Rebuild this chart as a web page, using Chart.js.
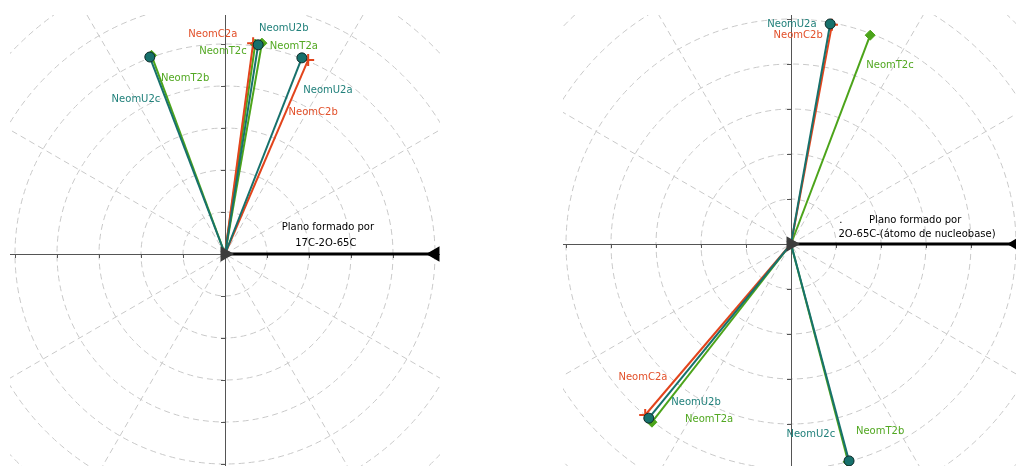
<!DOCTYPE html>
<html>
<head>
<meta charset="utf-8">
<script src="https://cdn.jsdelivr.net/npm/chart.js@4/dist/chart.umd.min.js"></script>
<style>
  body { margin: 0; background: #ffffff; width: 1016px; height: 466px; position: relative; overflow: hidden; }
  canvas { position: absolute; }
</style>
</head>
<body>
<canvas id="plotLeft" width="430" height="451" style="left:10px;top:15px"></canvas>
<canvas id="plotRight" width="453" height="451" style="left:563px;top:15px"></canvas>
<script>
/* ---------- data ---------- */
const seriesNames = ["NeomC2a", "NeomU2b", "NeomT2c", "NeomT2a", "NeomT2b", "NeomU2c", "NeomU2a", "NeomC2b"];
const seriesKind  = ["C", "U", "T", "T", "T", "U", "U", "C"];

// vector tips, left panel (plane 17C-2O-65C)
const leftVecX = [0.67, 0.79, 0.72, 0.88, -1.75, -1.79, 1.83, 1.98];
const leftVecY = [5.02, 4.98, 5.00, 5.02, 4.73, 4.69, 4.67, 4.62];
// vector tips, right panel (plane 2O-65C-nucleobase)
const rightVecX = [-3.24, -3.16, 1.76, -3.09, 1.27, 1.29, 0.87, 0.91];
const rightVecY = [-3.80, -3.87, 4.64, -3.96, -4.84, -4.82, 4.89, 4.87];

// label anchors (data units)
const leftLabX  = [-0.29, 1.40, -0.05, 1.64, -0.95, -2.12, 2.45, 2.10];
const leftLabY  = [5.24, 5.36, 4.83, 4.95, 4.17, 3.69, 3.90, 3.36];
const rightLabX = [-3.29, -2.11, 2.20, -1.82, 1.98, 0.44, 0.02, 0.16];
const rightLabY = [-2.96, -3.53, 3.96, -3.89, -4.16, -4.24, 4.87, 4.64];

const planeVec = [5, 0];
const leftPlaneText  = ["Plano formado por", "17C-2O-65C"];
const leftPlaneLab   = [2.45, 0.64, 2.40, 0.26];
const rightPlaneText = [".", "Plano formado por", "2O-65C-(átomo de nucleobase)"];
const rightPlaneLab  = [1.11, 0.52, 2.76, 0.53, 2.80, 0.22];

/* ---------- styles ---------- */
const kindColor  = { C: "#e2441c", U: "#17716c", T: "#4ca41a" };
const kindText   = { C: "#e2502a", U: "#21807b", T: "#52a822" };
const kindMarker = { C: "cross", U: "circle", T: "rectRot" };
const kindOrder  = { C: 2, U: 1, T: 3 };
const FONT = '10px "DejaVu Sans", sans-serif';

/* ---------- polar grid + axes ---------- */
const polarGrid = {
  id: "polarGrid",
  beforeDatasetsDraw(chart) {
    const ctx = chart.ctx;
    const xs = chart.scales.x, ys = chart.scales.y;
    const a = chart.chartArea;
    const ox = xs.getPixelForValue(0), oy = ys.getPixelForValue(0);
    const unit = xs.getPixelForValue(1) - ox;

    ctx.save();
    ctx.beginPath();
    ctx.rect(a.left, a.top, a.right - a.left, a.bottom - a.top);
    ctx.clip();

    ctx.strokeStyle = "#c9c9c9";
    ctx.lineWidth = 1;
    ctx.setLineDash([6, 4]);
    for (let k = 1; k <= 8; k++) {
      ctx.beginPath();
      ctx.arc(ox, oy, k * unit, 0, Math.PI * 2);
      ctx.stroke();
    }
    [30, 60, 120, 150].forEach(deg => {
      const r = 10 * unit, t = deg * Math.PI / 180;
      ctx.beginPath();
      ctx.moveTo(ox - r * Math.cos(t), oy + r * Math.sin(t));
      ctx.lineTo(ox + r * Math.cos(t), oy - r * Math.sin(t));
      ctx.stroke();
    });
    ctx.setLineDash([]);

    // axes through the origin
    ctx.strokeStyle = "#555555";
    ctx.beginPath();
    ctx.moveTo(a.left, Math.round(oy) + 0.5); ctx.lineTo(a.right, Math.round(oy) + 0.5);
    ctx.moveTo(Math.round(ox) + 0.5, a.top); ctx.lineTo(Math.round(ox) + 0.5, a.bottom);
    ctx.stroke();

    // tick marks
    ctx.beginPath();
    for (let k = -6; k <= 6; k++) {
      if (k === 0) continue;
      const px = Math.round(xs.getPixelForValue(k)) + 0.5;
      ctx.moveTo(px, oy); ctx.lineTo(px, oy + 4);
      const py = Math.round(ys.getPixelForValue(k)) + 0.5;
      ctx.moveTo(ox, py); ctx.lineTo(ox - 4, py);
    }
    ctx.stroke();
    ctx.restore();
  }
};

/* ---------- text labels ---------- */
const textLabels = {
  id: "textLabels",
  afterDatasetsDraw(chart, args, opts) {
    const ctx = chart.ctx;
    const xs = chart.scales.x, ys = chart.scales.y;
    ctx.save();
    ctx.font = FONT;
    ctx.textAlign = "center";
    ctx.textBaseline = "middle";
    opts.items.forEach(it => {
      ctx.fillStyle = it.color;
      ctx.fillText(it.text, xs.getPixelForValue(it.x), ys.getPixelForValue(it.y));
    });
    ctx.restore();
  }
};

function buildPanel(canvasId, vx, vy, lx, ly, planeText, planeLab, pxPerUnit, originPx) {
  const canvas = document.getElementById(canvasId);
  const w = canvas.width, h = canvas.height;

  const datasets = seriesNames.map((name, i) => {
    const kind = seriesKind[i];
    const col = kindColor[kind];
    return {
      label: name,
      data: [{ x: 0, y: 0 }, { x: vx[i], y: vy[i] }],
      showLine: true,
      borderColor: col,
      borderWidth: 2,
      pointStyle: kindMarker[kind],
      pointRadius: [0, kind === "C" ? 6 : 5],
      pointBackgroundColor: col,
      pointBorderColor: kind === "U" ? "#0d2a28" : col,
      pointBorderWidth: kind === "C" ? 2 : 1,
      order: kindOrder[kind]
    };
  });

  datasets.push({
    label: "plano",
    data: [{ x: 0, y: 0 }, { x: planeVec[0], y: planeVec[1] }],
    showLine: true,
    borderColor: "#000000",
    borderWidth: 3,
    pointStyle: "triangle",
    pointRotation: [90, -90],
    pointRadius: [6, 6],
    pointBackgroundColor: ["#3d3d3d", "#000000"],
    pointBorderColor: ["#3d3d3d", "#000000"],
    order: 0
  });

  const items = seriesNames.map((name, i) => ({
    text: name, x: lx[i], y: ly[i], color: kindText[seriesKind[i]]
  }));
  planeText.forEach((t, j) => {
    items.push({ text: t, x: planeLab[2 * j], y: planeLab[2 * j + 1], color: "#000000" });
  });

  return new Chart(canvas, {
    type: "scatter",
    data: { datasets },
    options: {
      responsive: false,
      animation: false,
      layout: { padding: 0, autoPadding: false },
      plugins: {
        legend: { display: false },
        tooltip: { enabled: false },
        textLabels: { items }
      },
      scales: {
        x: {
          display: false,
          min: -originPx[0] / pxPerUnit,
          max: (w - originPx[0]) / pxPerUnit
        },
        y: {
          display: false,
          min: -(h - originPx[1]) / pxPerUnit,
          max: originPx[1] / pxPerUnit
        }
      }
    },
    plugins: [polarGrid, textLabels]
  });
}

// origins relative to each canvas (left canvas starts at 10,15; right at 563,15)
buildPanel("plotLeft", leftVecX, leftVecY, leftLabX, leftLabY,
  leftPlaneText, leftPlaneLab, 42, [215, 239]);
buildPanel("plotRight", rightVecX, rightVecY, rightLabX, rightLabY,
  rightPlaneText, rightPlaneLab, 45, [228, 229]);
</script>
</body>
</html>
